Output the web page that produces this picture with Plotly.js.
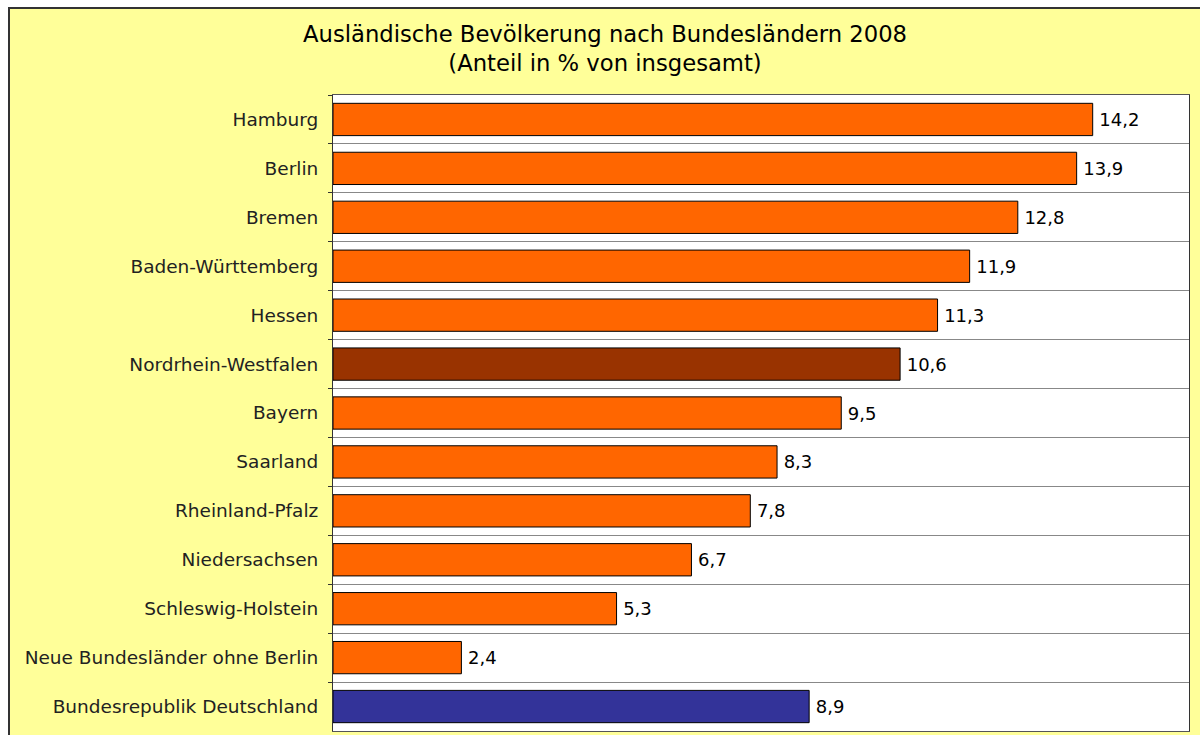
<!DOCTYPE html>
<html><head><meta charset="utf-8">
<script src="https://cdn.plot.ly/plotly-3.0.1.min.js"></script>
<style>
html,body{margin:0;padding:0;background:#ffffff;width:1200px;height:735px;overflow:hidden;}
#chart{position:absolute;left:8px;top:7px;width:1190px;height:726px;border-left:2px solid #333;border-top:2px solid #333;background:#FFFF99;}
</style></head>
<body><div id="chart"></div>
<script>
const categories = ["Hamburg","Berlin","Bremen","Baden-Württemberg","Hessen","Nordrhein-Westfalen","Bayern","Saarland","Rheinland-Pfalz","Niedersachsen","Schleswig-Holstein","Neue Bundesländer ohne Berlin","Bundesrepublik Deutschland"];
const values = [14.2,13.9,12.8,11.9,11.3,10.6,9.5,8.3,7.8,6.7,5.3,2.4,8.9];
const titleText = "Ausländische Bevölkerung nach Bundesländern 2008<br>(Anteil in % von insgesamt)";

const colorFor = c => c === "Nordrhein-Westfalen" ? "#993300" : (c === "Bundesrepublik Deutschland" ? "#333399" : "#FF6600");

const trace = {
  type: "bar", orientation: "h",
  x: values, y: categories,
  marker: {color: categories.map(colorFor), line: {color: "#000", width: 1}},
  text: values.map(v => "\u2009" + v.toFixed(1).replace(".", ",")),
  textposition: "outside", cliponaxis: false,
  textfont: {family: "DejaVu Sans", size: 18, color: "#000"},
  hoverinfo: "skip"
};

const layout = {
  width: 1190, height: 726,
  paper_bgcolor: "#FFFF99", plot_bgcolor: "#FFFFFF",
  margin: {l: 323, r: 11, t: 86, b: 4, pad: 0},
  showlegend: false,
  bargap: 0.34,
  title: {text: titleText, x: 0.5, xref: "container", xanchor: "center", y: 0.955, yref: "container", yanchor: "top",
          font: {family: "DejaVu Sans", size: 22.7, color: "#000"}},
  xaxis: {range: [0, 16], showticklabels: false, ticks: "", showgrid: false, zeroline: false,
          showline: true, mirror: true, linecolor: "#555", linewidth: 1},
  yaxis: {type: "category", autorange: "reversed", tickson: "boundaries", ticks: "outside", ticklen: 4, tickcolor: "#333",
          showgrid: true, gridcolor: "#888", gridwidth: 1, showline: true, mirror: true, linecolor: "#333", linewidth: 1,
          tickfont: {family: "DejaVu Sans", size: 18.5, color: "#222"}, ticklabelstandoff: 10}
};

Plotly.newPlot("chart", [trace], layout, {displayModeBar: false, staticPlot: true});
</script></body></html>
